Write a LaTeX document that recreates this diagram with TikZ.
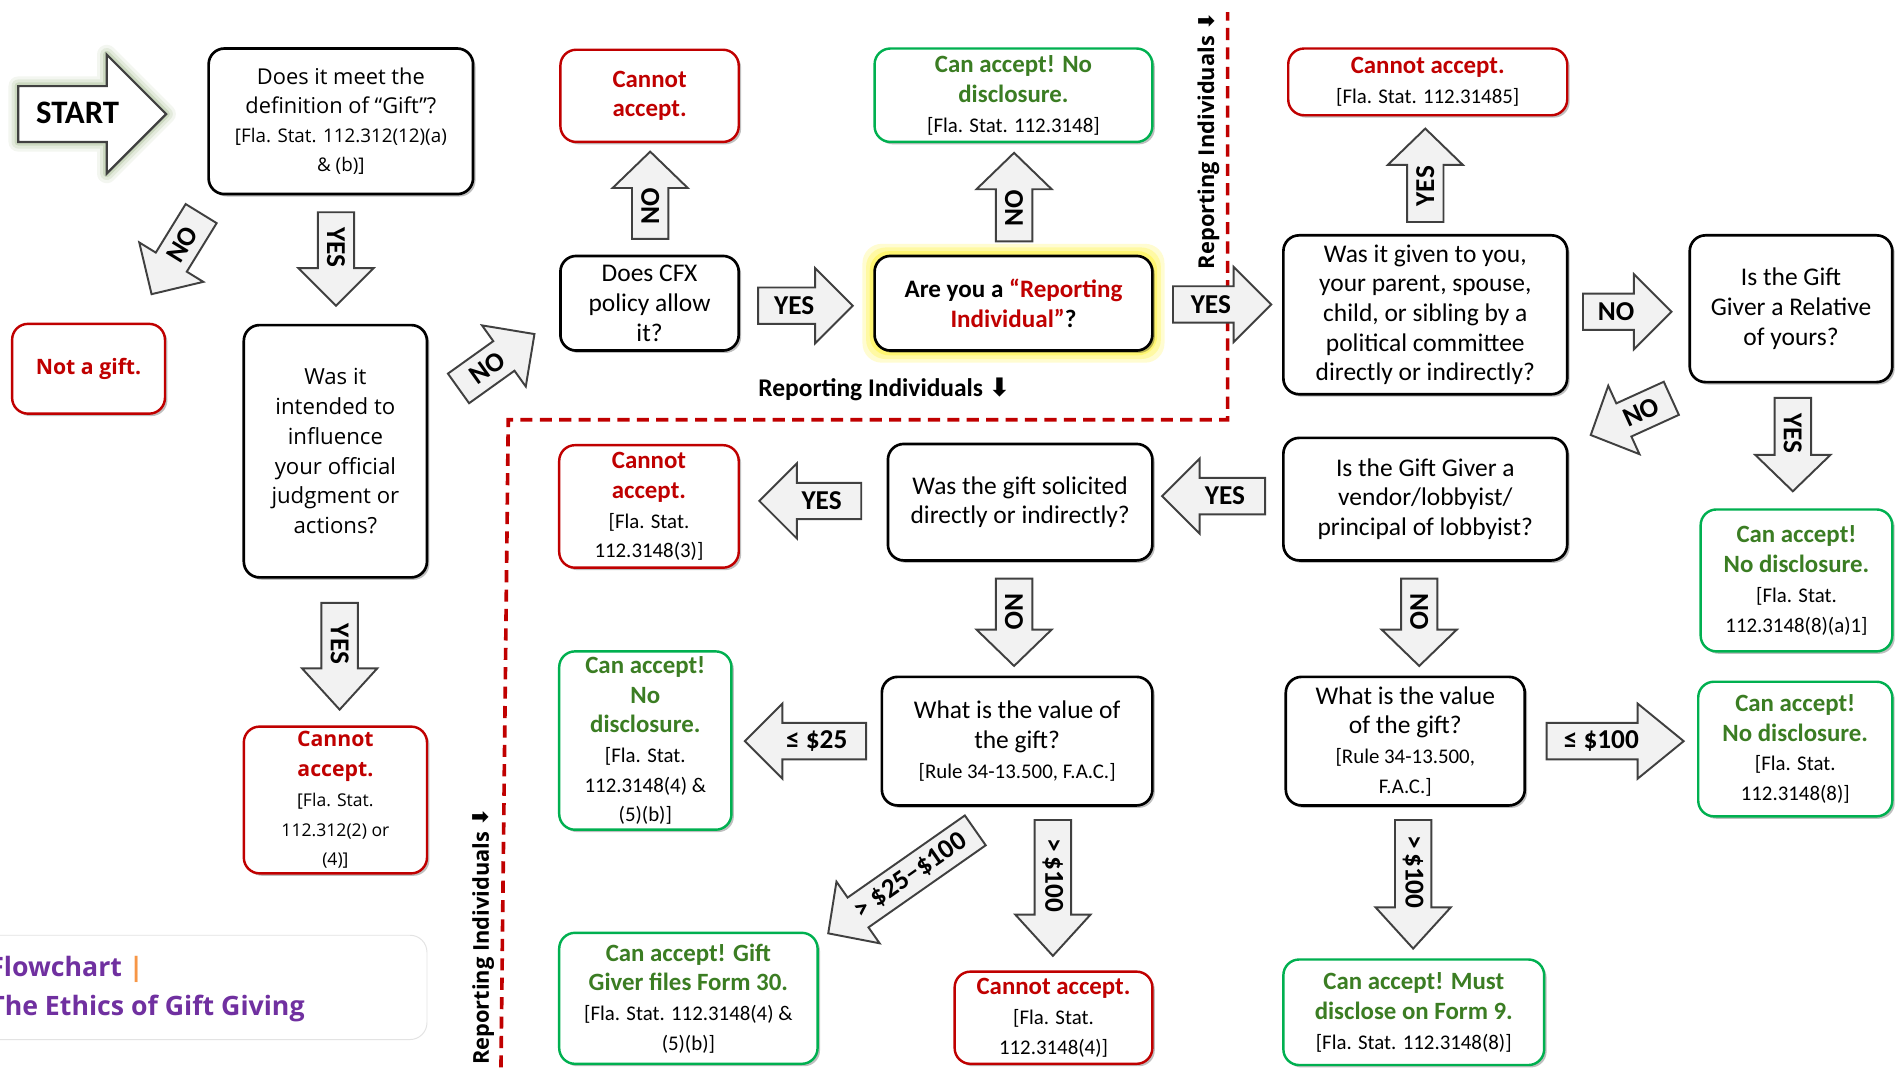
\documentclass[tikz,border=0pt]{standalone}
\usepackage{fontspec}
\setmainfont{Carlito}
\newfontfamily\segoe{Open Sans}
\newfontfamily\symf{DejaVu Sans}
\usetikzlibrary{shadows}
\definecolor{cred}{HTML}{C00000}
\definecolor{cgreen}{HTML}{00B050}
\definecolor{tgreen}{HTML}{3B7D23}
\definecolor{purp}{HTML}{7030A0}
\definecolor{orng}{HTML}{F79646}
\definecolor{afill}{HTML}{F2F2F2}
\definecolor{aline}{HTML}{404040}
\definecolor{glowg}{HTML}{8BA870}
\newcommand\mainf{\fontsize{21}{24.5}\selectfont}
\newcommand\citef{\fontsize{17.2}{21}\selectfont}
\newcommand\C[1]{{\citef #1}}
\newcommand\OC[1]{{\fontsize{15.5}{22}\selectfont #1}}
\newcommand\OD[1]{{\fontsize{14.5}{21}\selectfont #1}}
\newcommand\R[1]{\textcolor{cred}{\bfseries\fontsize{20.5}{24.5}\selectfont #1}}
\newcommand\G[1]{\textcolor{tgreen}{\bfseries\fontsize{20.5}{24.5}\selectfont #1}}
\tikzset{
 box/.style={draw=black, line width=2.2pt, rounded corners=13pt, fill=white, align=center, inner sep=1pt, font=\mainf,
   drop shadow={shadow xshift=2pt, shadow yshift=-2pt, opacity=0.25, fill=black}},
 redbox/.style={box, draw=cred, line width=2pt},
 greenbox/.style={box, draw=cgreen, line width=2pt},
 arrowshape/.style={fill=afill, draw=aline, line width=1.6pt, line join=miter},
 arrowlabel/.style={font=\bfseries\fontsize{22.5}{25}\selectfont, inner sep=0pt},
 vlabel/.style={font=\segoe\bfseries\fontsize{18}{20}\selectfont, inner sep=0pt, rotate=90, anchor=base west},
}
\newcommand\barrow[7]{%
 \begin{scope}[shift={#2}, rotate=#3]
 \path[arrowshape] ({-#4/2},-15) -- ({#4/2-#5},-15) -- ({#4/2-#5},-31) -- ({#4/2},0) -- ({#4/2-#5},31) -- ({#4/2-#5},15) -- ({-#4/2},15) -- cycle;
 \node[arrowlabel, rotate=#6] (#1) at ({-#5*0.3},0) {#7};
 \end{scope}}
\begin{document}
\begin{tikzpicture}[x=1pt,y=-1pt]
\useasboundingbox (0,0) rectangle (1568,880);
\clip (0,0) rectangle (1568,880);
\fill[white] (0,0) rectangle (1568,880);

% dashed boundary
\draw[cred, line width=3pt, dash pattern=on 10pt off 6pt] (413,880) -- (419,346) -- (1012,346) -- (1012,10);
\node[vlabel] (rivl) at (403,878) {Reporting Individuals {\symf ⬇}};
\node[vlabel] (rivt) at (1001,222) {Reporting Individuals {\symf ⬇}};
\node[font=\bfseries\fontsize{21}{24}\selectfont, inner sep=0pt] (rih) at (729,321) {Reporting Individuals {\symf ⬇}};

% title
\draw[gray!22, line width=0.8pt, rounded corners=14pt] (-20,771) rectangle (352,857);
\node[anchor=base west, inner sep=0pt, font=\segoe\bfseries\fontsize{22}{26}\selectfont, text=purp] (title1) at (-9,805) {Flowchart \textcolor{orng}{|}};
\node[anchor=base west, inner sep=0pt, font=\segoe\bfseries\fontsize{22}{26}\selectfont, text=purp] (title2) at (-9,837) {The Ethics of Gift Giving};

% START arrow
\foreach \lw/\op in {16/0.10, 11/0.15, 6/0.25}
  \draw[glowg, line width=\lw pt, opacity=\op, line join=round] (15,71) -- (88,71) -- (88,45) -- (137,94) -- (88,143) -- (88,117) -- (15,117) -- cycle;
\draw[fill=white, draw=aline, line width=1.8pt] (15,71) -- (88,71) -- (88,45) -- (137,94) -- (88,143) -- (88,117) -- (15,117) -- cycle;
\node[font=\bfseries\fontsize{27}{30}\selectfont, inner sep=0pt] (start) at (64,93) {START};

% yellow glow around Reporting Individual box
\foreach \e/\op in {10/0.18, 7/0.22, 4/0.3}
  \fill[yellow, opacity=\op, rounded corners=16pt] ({721-\e},{211-\e}) rectangle ({950+\e},{289+\e});

% boxes
\node[box, minimum width=218, minimum height=120, font=\segoe\fontsize{18}{24}\selectfont] (gift) at (281,100)
  {Does it meet the\\definition of “Gift”?\\\OC{[Fla. Stat. 112.312(12)(a)}\\\OC{\& (b)]}};
\node[box, minimum width=151, minimum height=208, font=\segoe\fontsize{18.3}{24.6}\selectfont] (infl) at (276.5,372)
  {Was it\\intended to\\influence\\your official\\judgment or\\actions?};
\node[redbox, minimum width=126, minimum height=74, font=\segoe\fontsize{17.5}{24}\selectfont] (notgift) at (73,304) {\textcolor{cred}{\bfseries Not a gift.}};
\node[redbox, minimum width=151, minimum height=121, font=\segoe\fontsize{17.5}{24.5}\selectfont] (cannot1) at (276.5,659.5)
  {\textcolor{cred}{\bfseries Cannot}\\\textcolor{cred}{\bfseries accept.}\\\OD{[Fla. Stat.}\\\OD{112.312(2) or}\\\OD{(4)]}};
\node[redbox, minimum width=147, minimum height=76] (cannot2) at (535.5,79) {\R{Cannot}\\\R{accept.}};
\node[box, minimum width=147, minimum height=78] (cfx) at (535.5,250) {Does CFX\\policy allow\\it?};
\node[box, minimum width=229, minimum height=78, font=\bfseries\fontsize{20.7}{24.5}\selectfont] (ri) at (835.5,250)
  {Are you a \textcolor{cred}{“Reporting}\\\textcolor{cred}{Individual”}?};
\node[greenbox, minimum width=229, minimum height=77] (accept1) at (835.5,78.5)
  {\G{Can accept! No}\\\G{disclosure.}\\\C{[Fla. Stat. 112.3148]}};
\node[box, minimum width=234, minimum height=131] (polcom) at (1175,259.5)
  {Was it given to you,\\your parent, spouse,\\child, or sibling by a\\political committee\\directly or indirectly?};
\node[redbox, minimum width=230, minimum height=55] (cannot3) at (1177,67.5)
  {\R{Cannot accept.}\\\C{[Fla. Stat. 112.31485]}};
\node[box, minimum width=167, minimum height=121] (rel) at (1476.5,254.5)
  {Is the Gift\\Giver a Relative\\of yours?};
\node[greenbox, minimum width=158, minimum height=117] (accept2) at (1481,478.5)
  {\G{Can accept!}\\\G{No disclosure.}\\\C{[Fla. Stat.}\\\C{112.3148(8)(a)1]}};
\node[box, minimum width=234, minimum height=101] (vend) at (1175,411.5)
  {Is the Gift Giver a\\vendor/lobbyist/\\principal of lobbyist?};
\node[box, minimum width=218, minimum height=96] (sol) at (841,414)
  {Was the gift solicited\\directly or indirectly?};
\node[redbox, minimum width=148, minimum height=101] (cannot4) at (535,417.5)
  {\R{Cannot}\\\R{accept.}\\\C{[Fla. Stat.}\\\C{112.3148(3)]}};
\node[box, minimum width=223, minimum height=106] (val1) at (838.5,611)
  {What is the value of\\the gift?\\\C{[Rule 34-13.500, F.A.C.]}};
\node[greenbox, minimum width=142, minimum height=147] (accept3) at (532,610.5)
  {\G{Can accept!}\\\G{No}\\\G{disclosure.}\\\C{[Fla. Stat.}\\\C{112.3148(4) \&}\\\C{(5)(b)]}};
\node[greenbox, minimum width=213, minimum height=108] (accept4) at (567.5,823)
  {\G{Can accept! Gift}\\\G{Giver files Form 30.}\\\C{[Fla. Stat. 112.3148(4) \&}\\\C{(5)(b)]}};
\node[redbox, minimum width=163, minimum height=76] (cannot5) at (868.5,839)
  {\R{Cannot accept.}\\\C{[Fla. Stat.}\\\C{112.3148(4)]}};
\node[box, minimum width=197, minimum height=106] (val2) at (1158.5,611)
  {What is the value\\of the gift?\\\C{[Rule 34-13.500,}\\\C{F.A.C.]}};
\node[greenbox, minimum width=160, minimum height=111] (accept5) at (1480,617.5)
  {\G{Can accept!}\\\G{No disclosure.}\\\C{[Fla. Stat.}\\\C{112.3148(8)]}};
\node[greenbox, minimum width=215, minimum height=87] (accept6) at (1165.5,834.5)
  {\G{Can accept! Must}\\\G{disclose on Form 9.}\\\C{[Fla. Stat. 112.3148(8)]}};

% block arrows
\barrow{noGift}{(145.4,209.3)}{238.4}{78}{31}{58.4}{NO}
\barrow{yesGift}{(277,213.5)}{-90}{77}{31}{-90}{YES}
\barrow{noInfl}{(409.3,297.8)}{35.6}{77}{31}{35.6}{NO}
\barrow{yesInfl}{(280,541)}{-90}{88}{34}{-90}{YES}
\barrow{noCfx}{(536,161)}{90}{72}{30}{90}{NO}
\barrow{yesCfx}{(664,252)}{0}{78}{31}{0}{YES}
\barrow{noRi}{(836,162.5)}{90}{73}{30}{90}{NO}
\barrow{yesRi}{(1007.5,251)}{0}{81}{31}{0}{YES}
\barrow{yesPol}{(1175,144.5)}{90}{77}{30}{90}{YES}
\barrow{noPol}{(1341.5,257)}{0}{73}{31}{0}{NO}
\barrow{yesRel}{(1478,366.5)}{-90}{77}{30}{-90}{YES}
\barrow{noRel}{(1344.6,343.5)}{204.5}{73}{30}{24.5}{NO}
\barrow{yesVend}{(1000.5,409)}{180}{85}{31}{0}{YES}
\barrow{yesSol}{(668,413)}{180}{84}{31}{0}{YES}
\barrow{noSol}{(836,513)}{-90}{72}{30}{-90}{NO}
\barrow{leA}{(664,611)}{180}{100}{31}{0}{≤ \$25}
\barrow{midA}{(743.4,727)}{215}{148}{30}{35}{> \$25–\$100}
\barrow{gtA}{(868,732)}{-90}{112}{34}{-90}{>\,\$100}
\barrow{noVend}{(1170,513)}{-90}{72}{30}{-90}{NO}
\barrow{leB}{(1331.5,611)}{0}{113}{38}{0}{≤ \$100}
\barrow{gtB}{(1165,729)}{-90}{106}{34}{-90}{>\,\$100}
\end{tikzpicture}
\end{document}
